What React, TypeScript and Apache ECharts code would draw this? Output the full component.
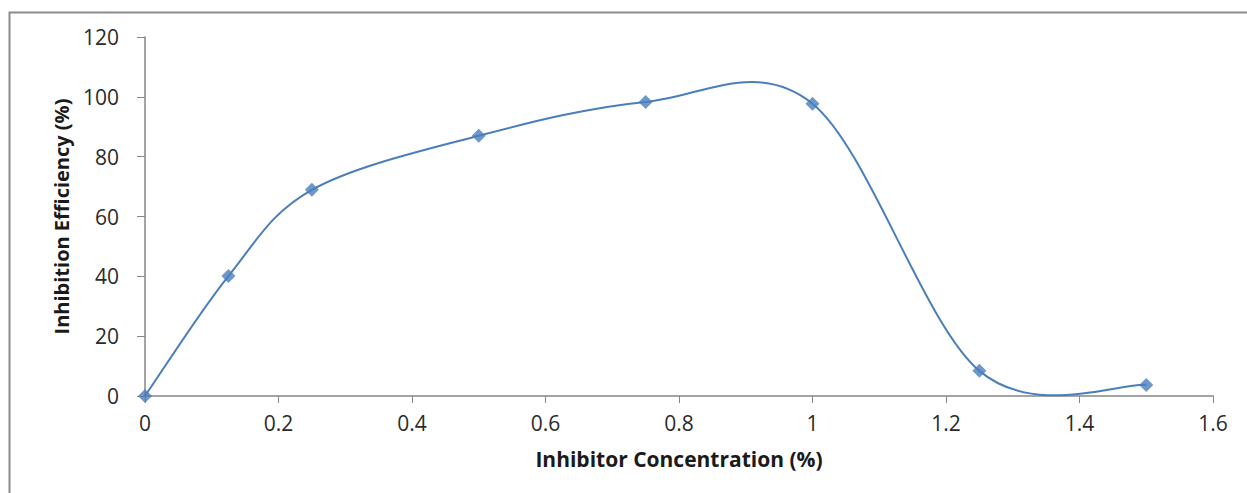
import React, { useEffect, useRef } from "react";
import * as echarts from "echarts";

const concentration = [0, 0.125, 0.25, 0.5, 0.75, 1, 1.25, 1.5];
const efficiency = [0, 40.1, 68.9, 87, 98.3, 97.7, 8.4, 3.7];
const xTitle = "Inhibitor Concentration (%)";
const yTitle = "Inhibition Efficiency (%)";

const BLUE = "#4a7ebb";
const AXIS = "#868686";
const FONT = "'Open Sans', 'Noto Sans', sans-serif";

export default function App() {
  const ref = useRef<HTMLDivElement>(null);
  useEffect(() => {
    if (!ref.current) return;
    const chart = echarts.init(ref.current, null, { renderer: "svg" });
    const n = concentration.length;
    const segData = concentration.slice(0, n - 1).map((x, i) => [x, efficiency[i], i]);
    chart.setOption({
      animation: false,
      backgroundColor: "#ffffff",
      graphic: [
        {
          type: "rect",
          shape: { x: 9.5, y: 12.5, width: 1400, height: 700 },
          style: { fill: "none", stroke: "#8c8c8c", lineWidth: 2 },
          silent: true,
        },
      ],
      grid: { left: 145, right: 34, top: 37, bottom: 97 },
      xAxis: {
        type: "value",
        min: 0,
        max: 1.6,
        interval: 0.2,
        name: xTitle,
        nameLocation: "middle",
        nameGap: 52,
        nameTextStyle: { fontFamily: FONT, fontSize: 21, fontWeight: "bold", color: "#1a1a1a" },
        axisLine: { show: true, lineStyle: { color: AXIS, width: 1.5 } },
        axisTick: { show: true, inside: false, length: 7, lineStyle: { color: AXIS } },
        axisLabel: { fontFamily: FONT, fontSize: 21, color: "#2b2b2b", margin: 16 },
        splitLine: { show: false },
      },
      yAxis: {
        type: "value",
        min: 0,
        max: 120,
        interval: 20,
        name: yTitle,
        nameLocation: "middle",
        nameGap: 74,
        nameRotate: 90,
        nameTextStyle: { fontFamily: FONT, fontSize: 20, fontWeight: "bold", color: "#1a1a1a" },
        axisLine: { show: true, lineStyle: { color: AXIS, width: 1.5 } },
        axisTick: { show: true, inside: false, length: 8, lineStyle: { color: AXIS } },
        axisLabel: { fontFamily: FONT, fontSize: 21, color: "#2b2b2b", margin: 26 },
        splitLine: { show: false },
      },
      series: [
        {
          type: "custom",
          coordinateSystem: "cartesian2d",
          encode: { x: 0, y: 1 },
          clip: false,
          z: 2,
          data: segData,
          renderItem: (params: any, api: any) => {
            const i = api.value(2) as number;
            const pt = (k: number) => {
              const kk = Math.max(0, Math.min(n - 1, k));
              return api.coord([concentration[kk], efficiency[kk]]);
            };
            const p0 = pt(i - 1);
            const p1 = pt(i);
            const p2 = pt(i + 1);
            const p3 = pt(i + 2);
            const cp1 = [p1[0] + (p2[0] - p0[0]) / 6, p1[1] + (p2[1] - p0[1]) / 6];
            const cp2 = [p2[0] - (p3[0] - p1[0]) / 6, p2[1] - (p3[1] - p1[1]) / 6];
            return {
              type: "bezierCurve",
              shape: {
                x1: p1[0],
                y1: p1[1],
                x2: p2[0],
                y2: p2[1],
                cpx1: cp1[0],
                cpy1: cp1[1],
                cpx2: cp2[0],
                cpy2: cp2[1],
              },
              style: { stroke: BLUE, fill: null, lineWidth: 2 },
            };
          },
        },
        {
          type: "scatter",
          symbol: "diamond",
          symbolSize: 14,
          z: 3,
          itemStyle: { color: BLUE },
          data: concentration.map((x, i) => [x, efficiency[i]]),
        },
      ],
    });
    return () => chart.dispose();
  }, []);
  return (
    <div
      ref={ref}
      style={{ position: "absolute", left: 0, top: 0, width: 1247, height: 493 }}
    />
  );
}
